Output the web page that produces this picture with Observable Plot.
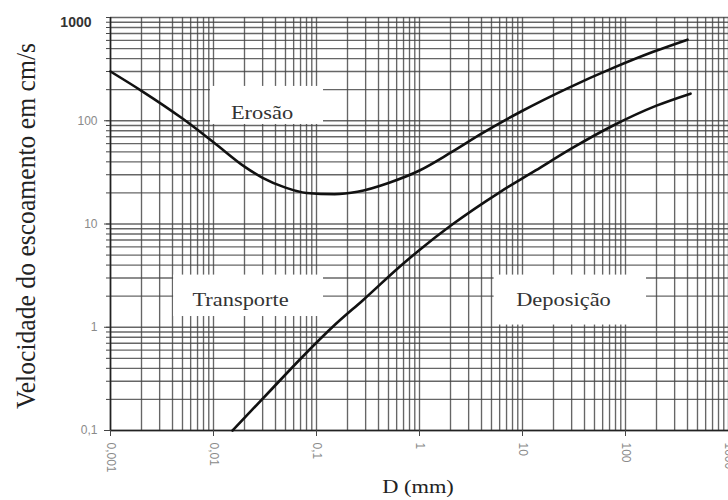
<!DOCTYPE html>
<html>
<head>
<meta charset="utf-8">
<script src="https://cdn.jsdelivr.net/npm/d3@7"></script>
<script src="https://cdn.jsdelivr.net/npm/@observablehq/plot@0.6"></script>
<style>
  html, body { margin: 0; padding: 0; background: white; }
</style>
</head>
<body>
<script>
// ---- data ----
const xDecades = [0.001, 0.01, 0.1, 1, 10, 100, 1000];
const xTickLabels = ["0,001", "0,01", "0,1", "1", "10", "100", "1000"];
const yDecades = [0.1, 1, 10, 100, 1000];
const yTickLabels = ["0,1", "1", "10", "100", "1000"];
const gridSteps = [1, 2, 3, 4, 5, 6, 7, 8, 9];

// Erosion curve (D in mm, velocity in cm/s)
const erosionD = [0.001, 0.002, 0.005, 0.01, 0.02, 0.03, 0.05, 0.08, 0.15, 0.25, 0.5, 1, 2, 4, 10, 27, 76, 186, 400];
const erosionV = [300, 195, 105, 62, 36, 28, 22.5, 20, 19.4, 20.5, 25, 33, 49, 75, 125, 205, 325, 465, 610];

// Deposition curve
const depositionD = [0.0153, 0.0357, 0.0748, 0.15, 0.286, 0.65, 1.0, 2.0, 6.1, 13.4, 30, 76, 200, 428];
const depositionV = [0.1, 0.244, 0.53, 1.05, 1.85, 3.9, 5.6, 9.6, 20.5, 33, 54, 90, 140, 183];

// Zone labels and their white backgrounds (data units)
const labelText = ["Erosão", "Transporte", "Deposição"];
const labelD = [0.0296, 0.0183, 25];
const labelV = [120, 1.86, 1.86];
const boxD1 = [0.00935, 0.0041, 5.3];
const boxD2 = [0.117, 0.117, 160];
const boxV1 = [92, 1.27, 1.05];
const boxV2 = [215, 3.2, 3.2];

const xTitle = "D (mm)";
const yTitle = "Velocidade do escoamento em cm/s";

// ---- derived tables ----
const fix = v => +v.toPrecision(3);
const xGrid = xDecades.slice(0, -1).flatMap(d => gridSteps.map(s => fix(s * d))).concat([xDecades[xDecades.length - 1]]);
const yGrid = yDecades.slice(0, -1).flatMap(d => gridSteps.map(s => fix(s * d))).concat([yDecades[yDecades.length - 1]]);
const xLabelMap = new Map(xDecades.map((d, i) => [d, xTickLabels[i]]));
const yLabelMap = new Map(yDecades.map((d, i) => [d, yTickLabels[i]]));
const erosion = erosionD.map((d, i) => ({d, v: erosionV[i]}));
const deposition = depositionD.map((d, i) => ({d, v: depositionV[i]}));
const labels = labelText.map((t, i) => ({t, d: labelD[i], v: labelV[i]}));
const boxes = boxD1.map((d1, i) => ({d1, d2: boxD2[i], v1: boxV1[i], v2: boxV2[i]}));

const gridStyle = {stroke: "#444", strokeOpacity: 0.82, strokeWidth: 1.35};

const chart = Plot.plot({
  width: 728,
  height: 500,
  marginLeft: 110,
  marginRight: 0,
  marginTop: 17,
  marginBottom: 70,
  style: {background: "white", fontFamily: "'Liberation Sans', Arial, sans-serif"},
  x: {type: "log", domain: [0.001, 1000]},
  y: {type: "log", domain: [0.1, 1000]},
  marks: [
    Plot.ruleX(xGrid, gridStyle),
    Plot.ruleY(yGrid, gridStyle),
    Plot.rect(boxes, {x1: "d1", x2: "d2", y1: "v1", y2: "v2", fill: "white"}),
    Plot.ruleX([xDecades[0]], {stroke: "#222", strokeWidth: 1.6}),
    Plot.ruleY([yDecades[0]], {stroke: "#222", strokeWidth: 1.6}),
    Plot.axisX({ticks: xDecades, tickFormat: d => xLabelMap.get(d), tickRotate: 90, tickSize: 6, tickPadding: 6,
      fontSize: 12, fill: "#8a8a8a", stroke: "#444", label: null}),
    Plot.axisY({ticks: yGrid, tickFormat: () => "", tickSize: 4, stroke: "#444", label: null}),
    Plot.axisY({ticks: yDecades.slice(0, -1), tickFormat: d => yLabelMap.get(d), tickSize: 6, tickPadding: 7,
      fontSize: 12, fill: "#8a8a8a", stroke: "#444", label: null}),
    Plot.axisY({ticks: yDecades.slice(-1), tickFormat: d => yLabelMap.get(d), tickSize: 0, tickPadding: 19,
      dy: 5, fontSize: 14, fontWeight: "bold", fill: "#333", stroke: "#444", label: null}),
    Plot.line(erosion, {x: "d", y: "v", curve: "monotone-x", stroke: "#111", strokeWidth: 2.6}),
    Plot.line(deposition, {x: "d", y: "v", curve: "monotone-x", stroke: "#111", strokeWidth: 2.6}),
    Plot.text(labels, {x: "d", y: "v", text: "t", fontSize: 19, fontFamily: "'Liberation Serif', 'Times New Roman', serif",
      fill: "#333", textAnchor: "middle", lineAnchor: "middle"})
  ]
});

document.body.append(chart);

const svg = d3.select(chart.tagName.toLowerCase() === "svg" ? chart : chart.querySelector("svg"));
const serif = "'Liberation Serif', 'Times New Roman', serif";

svg.append("text")
  .attr("transform", "translate(35,226) scale(1.18,1) rotate(-90)")
  .attr("text-anchor", "middle")
  .attr("font-family", serif)
  .attr("font-size", 24)
  .attr("fill", "#222")
  .attr("textLength", 366)
  .attr("lengthAdjust", "spacingAndGlyphs")
  .text(yTitle);

svg.append("text")
  .attr("transform", "translate(418,493) scale(1.18,1)")
  .attr("text-anchor", "middle")
  .attr("font-family", serif)
  .attr("font-size", 19)
  .attr("fill", "#222")
  .text(xTitle);

// horizontal stretch of the zone labels
svg.selectAll("text").each(function () {
  if (labelText.includes(this.textContent)) {
    const w = this.getComputedTextLength();
    this.setAttribute("textLength", w * 1.18);
    this.setAttribute("lengthAdjust", "spacingAndGlyphs");
  }
});
</script>
</body>
</html>
